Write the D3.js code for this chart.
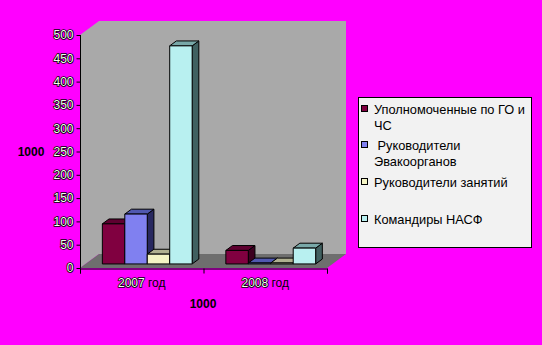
<!DOCTYPE html>
<html>
<head>
<meta charset="utf-8">
<script src="https://cdn.jsdelivr.net/npm/d3@7"></script>
<style>
  body { margin: 0; background: #ff00ff; }
  svg { display: block; }
  text { font-family: "Liberation Sans", Arial, sans-serif; font-size: 12px; }
</style>
</head>
<body>
<svg id="chart" width="542" height="345"></svg>
<script>
// data
const categories = ["2007 год", "2008 год"];
const seriesNames = ["Уполномоченные по ГО и ЧС", " Руководители Эвакоорганов", "Руководители занятий", "Командиры НАСФ"];
const upolnomochennye = [86, 29];
const rukEvako = [107, 2];
const rukZanyatiy = [21, 2];
const komandiry = [468, 34];
const yTicks = [0, 50, 100, 150, 200, 250, 300, 350, 400, 450, 500];
const legendLines = [["Уполномоченные по ГО и", "ЧС"], [" Руководители", "Эвакоорганов"], ["Руководители занятий"], ["Командиры НАСФ"]];

const seriesValues = [upolnomochennye, rukEvako, rukZanyatiy, komandiry];
const colors = [
  {front: "#800040", top: "#5e0030", side: "#3c0020"},
  {front: "#8080f0", top: "#5058b0", side: "#282860"},
  {front: "#f4f4c4", top: "#b0b090", side: "#606050"},
  {front: "#b8f0f0", top: "#78a8a8", side: "#406060"}
];

const svg = d3.select("#chart");
const plot = {left: 80, right: 327, top: 35, bottom: 268};
const depth = {dx: 19, dy: -14};
const barFront = 0.29, barBack = 0.64;

// projects a point of the front plane back into the depth d (0..1)
const proj = (x, y, d) => [x + depth.dx * d, y + depth.dy * d];

const x = d3.scaleBand().domain(categories).range([plot.left, plot.right]).paddingInner(0).paddingOuter(0);
const xs = d3.scaleBand().domain(d3.range(seriesNames.length)).range([0, x.bandwidth()])
             .paddingInner(0).paddingOuter(0.75);
const y = d3.scaleLinear().domain([0, 500]).range([plot.bottom, plot.top]);

const poly = pts => "M" + pts.map(p => p.join(",")).join("L") + "Z";

// walls
svg.append("path").attr("fill", "#a9a9a9")
   .attr("d", poly([proj(plot.left, plot.top, 0), proj(plot.left, plot.top, 1), proj(plot.right, plot.top, 1),
                    proj(plot.right, plot.bottom, 1), proj(plot.left, plot.bottom, 1), proj(plot.left, plot.bottom, 0)]));
// floor
svg.append("path").attr("fill", "#6e6e6e")
   .attr("d", poly([proj(plot.left, plot.bottom, 0), proj(plot.left, plot.bottom, 1),
                    proj(plot.right, plot.bottom, 1), proj(plot.right, plot.bottom, 0)]));

// bars, drawn left to right so the next front face hides the previous side
const bars = [];
categories.forEach((c, ci) => {
  seriesNames.forEach((s, si) => {
    bars.push({cat: c, si: si, value: seriesValues[si][ci]});
  });
});

const barG = svg.append("g");
bars.forEach(b => {
  const x0 = x(b.cat) + xs(b.si), x1 = x0 + xs.bandwidth();
  const yt = y(b.value), yb = y(0);
  const g = barG.append("g").attr("stroke", "#000").attr("stroke-width", 1).attr("stroke-linejoin", "round");
  g.append("path").attr("fill", colors[b.si].side)
   .attr("d", poly([proj(x1, yb, barFront), proj(x1, yb, barBack), proj(x1, yt, barBack), proj(x1, yt, barFront)]));
  g.append("path").attr("fill", colors[b.si].top)
   .attr("d", poly([proj(x0, yt, barFront), proj(x0, yt, barBack), proj(x1, yt, barBack), proj(x1, yt, barFront)]));
  g.append("path").attr("fill", colors[b.si].front)
   .attr("d", poly([proj(x0, yb, barFront), proj(x0, yt, barFront), proj(x1, yt, barFront), proj(x1, yb, barFront)]));
});

// value axis
const yAxis = d3.axisLeft(y).tickValues(yTicks).tickSize(4).tickPadding(3).tickFormat(d3.format("d"));
const yAxisG = svg.append("g").attr("transform", `translate(${plot.left + 0.5},0)`).call(yAxis);
yAxisG.select(".domain").attr("stroke", "#000").attr("d", `M0,${plot.top}V${plot.bottom + 0.5}`);

// category axis
const xAxis = d3.axisBottom(x).tickSize(5).tickPadding(9).tickFormat("");
const xAxisG = svg.append("g").attr("transform", `translate(0,${plot.bottom + 0.5})`).call(xAxis);
xAxisG.selectAll(".tick").remove();
xAxisG.select(".domain").attr("stroke", "#000");
const edges = [plot.left, ...categories.map(c => x(c) + x.bandwidth())];
xAxisG.selectAll("line.edge").data(edges).join("line").attr("class", "edge")
      .attr("x1", d => d + 0.5).attr("x2", d => d + 0.5).attr("y1", 0).attr("y2", 5).attr("stroke", "#000");

// outlined digits like the original picture
function outlined(sel) {
  sel.attr("fill", "#f4fff0").attr("stroke", "#000").attr("stroke-width", 1.6)
     .attr("paint-order", "stroke").attr("font-size", "12px");
}
yAxisG.selectAll(".tick text").call(outlined).attr("font-family", "Liberation Sans, Arial, sans-serif");

const catLab = svg.append("g").selectAll("text").data(categories).join("text")
   .attr("x", d => x(d) + x.bandwidth() / 2).attr("y", 287).attr("text-anchor", "middle");
catLab.append("tspan").text(d => d.split(" ")[0]).call(outlined);
catLab.append("tspan").text(d => " " + d.split(" ")[1]).attr("fill", "#000");

// axis titles
svg.append("text").attr("x", 31).attr("y", 156).attr("text-anchor", "middle")
   .attr("font-weight", "bold").text("1000");
svg.append("text").attr("x", 203).attr("y", 308).attr("text-anchor", "middle")
   .attr("font-weight", "bold").text("1000");

// legend
const legend = svg.append("g");
legend.append("rect").attr("x", 358.5).attr("y", 97.5).attr("width", 173).attr("height", 150)
      .attr("fill", "#f2f2f2").attr("stroke", "#000");
const legendY = [109, 145, 182, 219];
legendLines.forEach((lines, i) => {
  legend.append("rect").attr("x", 361.5).attr("y", legendY[i] - 3.5).attr("width", 6).attr("height", 6)
        .attr("fill", colors[i].front).attr("stroke", "#000");
  legend.append("text").attr("x", 374).attr("y", legendY[i] + 4.5).attr("fill", "#000")
        .style("font-size", "12.8px")
        .selectAll("tspan").data(lines).join("tspan")
        .attr("x", 374).attr("dy", (d, j) => j === 0 ? 0 : 16)
        .attr("xml:space", "preserve").style("white-space", "pre").text(d => d);
});
</script>
</body>
</html>
